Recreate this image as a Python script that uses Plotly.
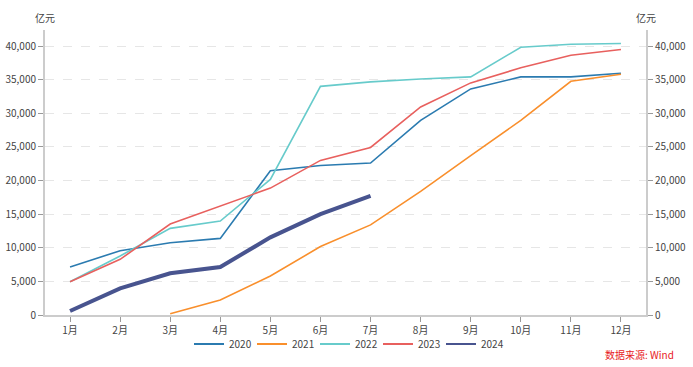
import plotly.graph_objects as go

months = ["1月", "2月", "3月", "4月", "5月", "6月", "7月", "8月", "9月", "10月", "11月", "12月"]
s2020 = [7150, 9560, 10750, 11400, 21460, 22250, 22610, 28960, 33640, 35420, 35420, 35960]
s2021 = [None, None, 200, 2230, 5800, 10180, 13410, 18380, 23700, 28960, 34770, 35810]
s2022 = [4950, 8770, 12890, 13980, 20180, 34020, 34680, 35120, 35420, 39830, 40280, 40390]
s2023 = [4950, 8280, 13530, 16200, 18880, 23000, 24930, 30950, 34530, 36770, 38650, 39500]
s2024 = [600, 3970, 6200, 7140, 11550, 15000, 17730]
y_ticks = [0, 5000, 10000, 15000, 20000, 25000, 30000, 35000, 40000]

series = [
    ("2020", s2020, "#2b7bb0", 1.6),
    ("2021", s2021, "#f98f2c", 1.6),
    ("2022", s2022, "#67cbcb", 1.6),
    ("2023", s2023, "#e8605e", 1.6),
    ("2024", s2024, "#48548f", 4),
]

FONT = "Noto Sans CJK SC, Noto Sans, sans-serif"
fig = go.Figure()
for name, vals, color, w in series:
    fig.add_trace(go.Scatter(
        x=months[:len(vals)], y=vals, name=name, mode="lines",
        line=dict(color=color, width=w), connectgaps=False,
        legendgroup=name, showlegend=False,
    ))
    # legend entry with uniform line width
    fig.add_trace(go.Scatter(
        x=[None], y=[None], name=name, mode="lines",
        line=dict(color=color, width=2), legendgroup=name, showlegend=True,
    ))
# invisible trace to render right axis
fig.add_trace(go.Scatter(x=months, y=s2020, yaxis="y2", mode="lines",
                         line=dict(width=0), opacity=0, showlegend=False, hoverinfo="skip"))

yrange = [0, 42400]
axis_common = dict(
    range=yrange, tickvals=y_ticks, tickformat=",", showline=True,
    linecolor="#cccccc", linewidth=2, ticks="outside", ticklen=5,
    tickcolor="#999999", tickfont=dict(size=10, color="#444444", family=FONT),
    zeroline=False, automargin=False,
)
fig.update_layout(
    width=693, height=367,
    margin=dict(l=45, r=47, t=30, b=52, autoexpand=False),
    paper_bgcolor="white", plot_bgcolor="white",
    font=dict(family=FONT, size=10, color="#444444"),
    xaxis=dict(
        categoryorder="array", categoryarray=months, range=[-0.5, 11.5],
        showline=True, linecolor="#cccccc", linewidth=2, ticks="outside",
        ticklen=5, tickcolor="#999999", showgrid=False, automargin=False,
        tickfont=dict(size=10, color="#444444", family=FONT),
    ),
    yaxis=dict(**axis_common, showgrid=True, gridcolor="#e6e6e6", griddash="dash", gridwidth=1),
    yaxis2=dict(**axis_common, overlaying="y", side="right", showgrid=False),
    legend=dict(orientation="h", x=0.5, xanchor="center", xref="container",
                y=1 - 344 / 367, yanchor="middle", yref="container",
                bgcolor="rgba(0,0,0,0)", entrywidth=18, entrywidthmode="pixels",
                font=dict(size=10, color="#444444", family=FONT), itemwidth=30,
                tracegroupgap=0),
    showlegend=True,
)
fig.add_annotation(text="亿元", xref="paper", yref="paper", x=0, y=1, yshift=3,
                   showarrow=False, font=dict(size=10, color="#444444", family=FONT),
                   xanchor="center", yanchor="bottom")
fig.add_annotation(text="亿元", xref="paper", yref="paper", x=1, y=1, yshift=3,
                   showarrow=False, font=dict(size=10, color="#444444", family=FONT),
                   xanchor="center", yanchor="bottom")
fig.add_annotation(text="数据来源: Wind", xref="paper", yref="paper", x=1, xshift=30,
                   y=0, yshift=-39, showarrow=False,
                   font=dict(size=10, color="#e8201e", family=FONT),
                   xanchor="right", yanchor="middle")
fig.write_html("out.html", config={"displayModeBar": False},
               post_script="document.body.style.margin='0px';")
